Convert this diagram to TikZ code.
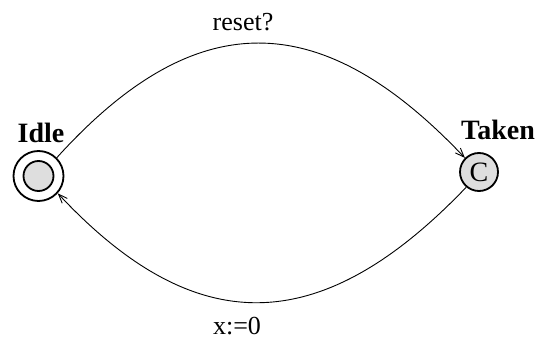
\documentclass[tikz,border=0pt]{standalone}
\usepackage{fontspec}
\setmainfont{Liberation Serif}
\usetikzlibrary{arrows.meta}
\begin{document}
\begin{tikzpicture}[x=1pt,y=-1pt,
  loc/.style={circle,draw,line width=1.8pt,fill=black!13,inner sep=0pt},
  lbl/.style={font=\fontsize{28}{32}\selectfont\bfseries},
  edgelbl/.style={font=\fontsize{26}{30}\selectfont},
  tr/.style={line width=0.9pt,-{Straight Barb[length=9pt,width=7pt]}}]
\useasboundingbox (0,0) rectangle (541,347);
\node[loc,minimum size=30pt] (idle) at (38.5,176) {};
\node[circle,draw,line width=1.8pt,minimum size=50pt,inner sep=0pt] (idleout) at (38.5,176) {};
\node[loc,minimum size=38pt] (taken) at (479,172) {\fontsize{28}{30}\selectfont C};
\node[lbl,anchor=base] (idlelbl) at (41,143) {Idle};
\node[lbl,anchor=base] (takenlbl) at (498,140) {Taken};
\node[edgelbl,anchor=base] (resetlbl) at (243,31) {reset?};
\node[edgelbl,anchor=base] (xlbl) at (237,335) {x:=0};
\draw[tr] (idleout.45) .. controls (195,5) and (320,5) .. (taken.135);
\draw[tr] (taken.-130) .. controls (320,340) and (195,340) .. (idleout.-42);
\end{tikzpicture}
\end{document}
